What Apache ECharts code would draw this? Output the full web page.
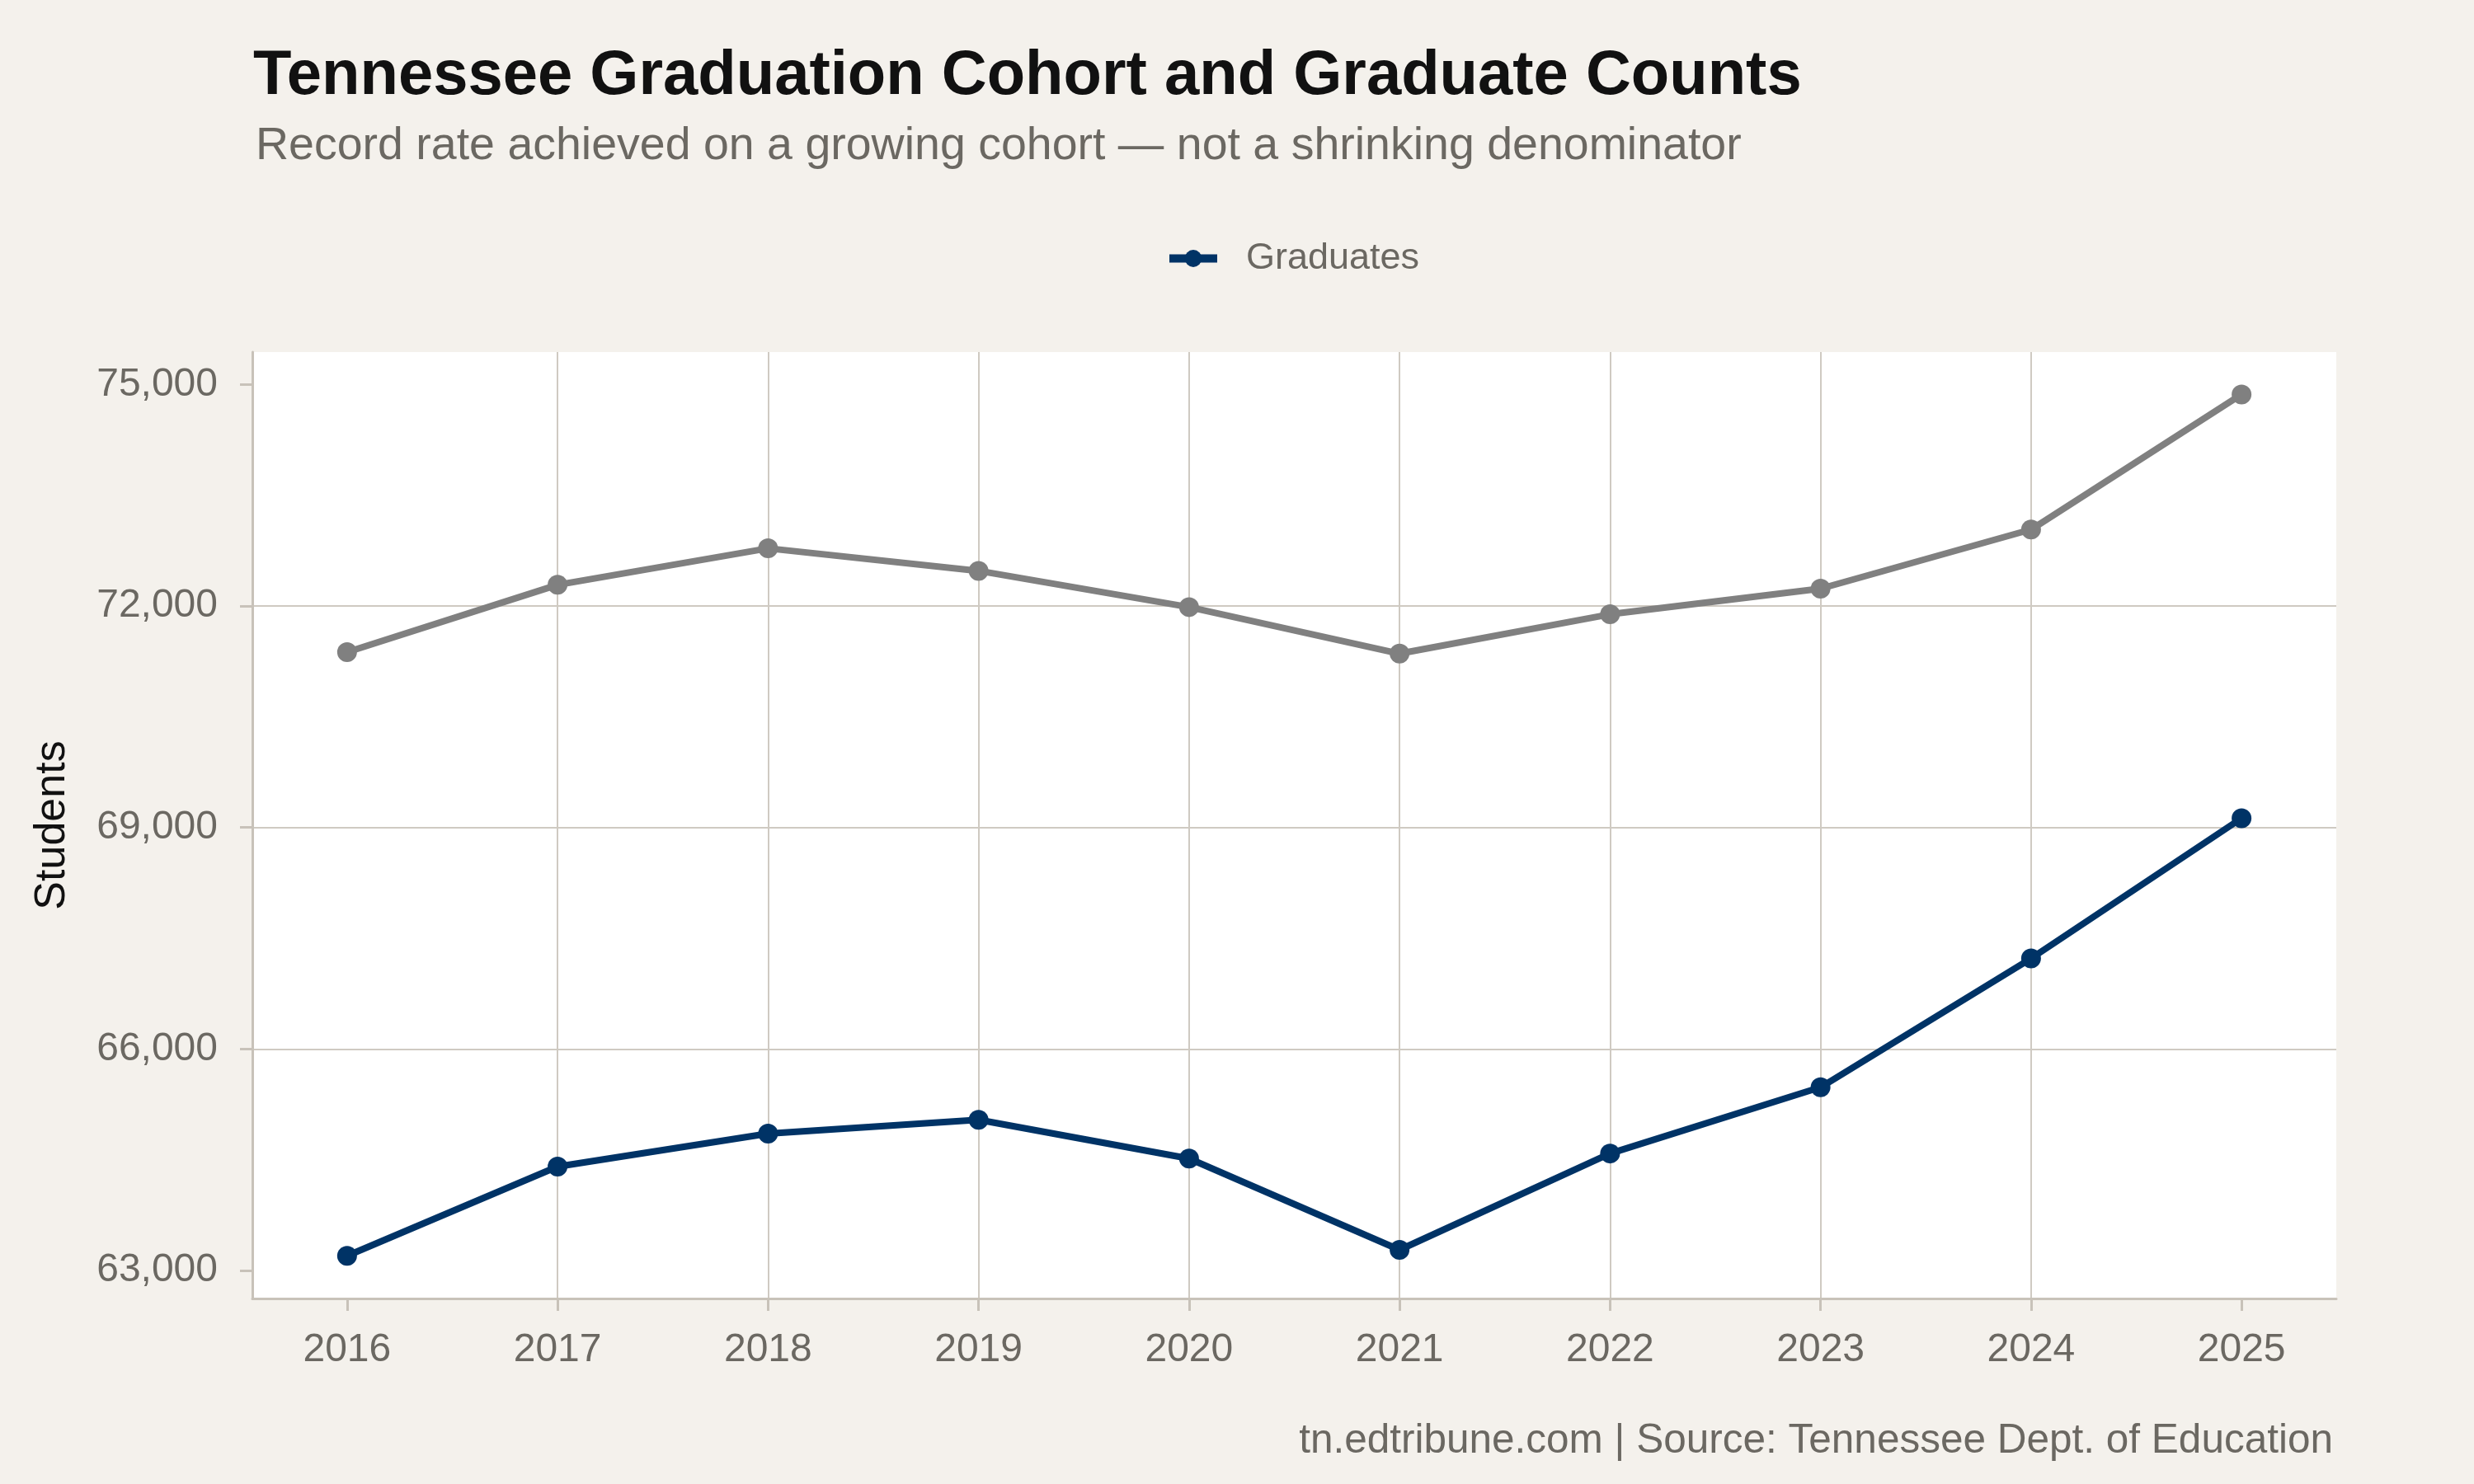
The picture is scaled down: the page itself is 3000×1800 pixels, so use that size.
<!DOCTYPE html>
<html>
<head>
<meta charset="utf-8">
<script src="https://cdn.jsdelivr.net/npm/echarts@6/dist/echarts.min.js"></script>
<style>
  html, body { margin: 0; padding: 0; background: #f4f1ec; }
  #chart { width: 3000px; height: 1800px; }
</style>
</head>
<body>
<div id="chart"></div>
<script>
// data
var years = [2016, 2017, 2018, 2019, 2020, 2021, 2022, 2023, 2024, 2025];
var cohort = [71375, 72287, 72781, 72476, 71985, 71355, 71888, 72235, 73036, 74866];
var graduates = [63198, 64407, 64854, 65041, 64516, 63279, 64584, 65481, 67226, 69125];
var yTicks = [63000, 66000, 69000, 72000, 75000];

var FONT = "Liberation Sans";
var gridColor = "#cfcac2";
var axisColor = "#c8c2b9";
var labelColor = "#6b6862";

function pairs(vals) {
    return years.map(function (y, i) { return [y, vals[i]]; });
}

var chart = echarts.init(document.getElementById("chart"));

var option = {
    backgroundColor: "#f4f1ec",
    textStyle: { fontFamily: FONT },
    title: [{
        text: "Tennessee Graduation Cohort and Graduate Counts",
        left: 302, top: 50,
        textStyle: { fontFamily: FONT, fontSize: 76, fontWeight: "bold", color: "#111111" }
    }, {
        text: "Record rate achieved on a growing cohort \u2014 not a shrinking denominator",
        left: 305, top: 145,
        textStyle: { fontFamily: FONT, fontSize: 55.5, fontWeight: "normal", color: labelColor }
    }, {
        text: "tn.edtribune.com | Source: Tennessee Dept. of Education",
        right: 166, top: 1718,
        textStyle: { fontFamily: FONT, fontSize: 49.5, fontWeight: "normal", color: labelColor }
    }],
    legend: {
        data: ["Graduates"],
        left: 1408, top: 286,
        itemWidth: 58, itemHeight: 26,
        lineStyle: { width: 10 },
        textStyle: { fontFamily: FONT, fontSize: 45, color: labelColor, padding: [0, 0, 0, 30] }
    },
    grid: {
        left: 306, right: 167, top: 427, bottom: 225,
        show: true, backgroundColor: "#ffffff", borderWidth: 0
    },
    xAxis: {
        type: "value",
        min: 2015.55, max: 2025.45,
        minInterval: 1, maxInterval: 1,
        axisLine: { show: true, lineStyle: { color: axisColor, width: 3 } },
        axisTick: { show: true, length: 15, customValues: years, lineStyle: { color: axisColor, width: 3 } },
        axisLabel: {
            margin: 39, fontSize: 48, color: labelColor, fontFamily: FONT,
            customValues: years,
            formatter: function (v) { return String(v); }
        },
        splitLine: { show: true, showMinLine: false, showMaxLine: false, lineStyle: { color: gridColor, width: 2 } }
    },
    yAxis: {
        type: "value",
        min: 62620, max: 75440,
        minInterval: 3000, maxInterval: 3000,
        name: "Students",
        nameLocation: "middle",
        nameGap: 216,
        nameTextStyle: { fontFamily: FONT, fontSize: 52, color: "#111111" },
        axisLine: { show: true, lineStyle: { color: axisColor, width: 3 } },
        axisTick: { show: true, length: 15, customValues: yTicks, lineStyle: { color: axisColor, width: 3 } },
        axisLabel: {
            margin: 42, fontSize: 48, color: labelColor, fontFamily: FONT,
            customValues: yTicks,
            formatter: function (v) { return v.toLocaleString("en-US"); }
        },
        splitLine: { show: true, showMinLine: false, showMaxLine: false, lineStyle: { color: gridColor, width: 2 } }
    },
    series: [{
        name: "Cohort",
        type: "line",
        data: pairs(cohort),
        symbol: "circle", symbolSize: 24,
        lineStyle: { color: "#808080", width: 8 },
        itemStyle: { color: "#808080" },
        z: 3
    }, {
        name: "Graduates",
        type: "line",
        data: pairs(graduates),
        symbol: "circle", symbolSize: 24,
        lineStyle: { color: "#003366", width: 8 },
        itemStyle: { color: "#003366" },
        z: 4
    }],
    animation: false
};

chart.setOption(option);
</script>
</body>
</html>
